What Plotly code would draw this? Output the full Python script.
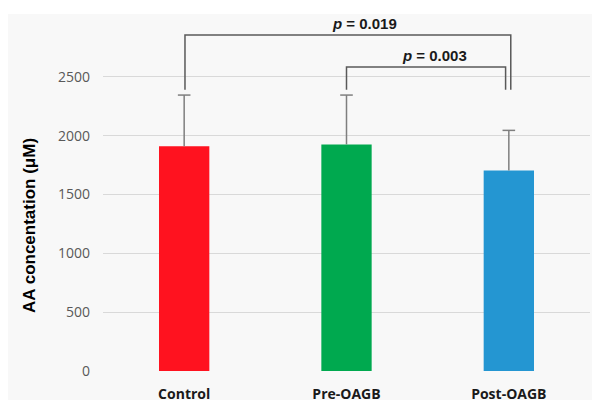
import plotly.graph_objects as go

categories = ["Control", "Pre-OAGB", "Post-OAGB"]
means = [1910, 1925, 1705]
sds = [435, 420, 340]
bar_colors = ["#ff121f", "#00a94f", "#2496d2"]

y_ticks = [0, 500, 1000, 1500, 2000, 2500]

# significance brackets: (left index, right index, top level, leg bottom, label)
brackets = [
    (0.005, 2.012, 2855, 2390, "<b><i>p</i> = 0.019</b>"),
    (1.0, 1.98, 2583, 2390, "<b><i>p</i> = 0.003</b>"),
]

fig = go.Figure()
fig.add_trace(go.Bar(
    x=categories, y=means,
    marker=dict(color=bar_colors, line=dict(width=0)),
    width=0.31,
    showlegend=False,
))

# upper error bars (stem + cap only, no cap at bar top)
ex, ey = [], []
for c, m, s in zip(categories, means, sds):
    ex += [c, c, None]
    ey += [m, m + s, None]
fig.add_trace(go.Scatter(x=ex, y=ey, mode="lines", line=dict(color="#7f7f7f", width=1.5),
                         showlegend=False, hoverinfo="skip"))
fig.add_trace(go.Scatter(x=categories, y=[m + s for m, s in zip(means, sds)], mode="markers",
                         marker=dict(symbol="line-ew", size=9, line=dict(color="#7f7f7f", width=1.5)),
                         showlegend=False, hoverinfo="skip"))

# white strip above the light grey chart background
shapes = [dict(type="rect", xref="paper", yref="paper", x0=-0.3, x1=1.1, y0=1.0113, y1=1.1,
               fillcolor="white", line=dict(width=0), layer="below")]
annotations = []
for x0, x1, top, leg, label in brackets:
    shapes.append(dict(type="path", xref="x", yref="y",
                       path=f"M {x0},{leg} L {x0},{top} L {x1},{top} L {x1},{leg}",
                       line=dict(color="#595959", width=1.5)))
    annotations.append(dict(x=(x0 + x1) / 2 + 0.1 * (x1 - x0) / 2, y=top, xref="x", yref="y",
                            text=label, showarrow=False, yanchor="bottom", yshift=1,
                            font=dict(family="Liberation Sans, Arial", size=15, color="#1a1a1a")))

annotations.append(dict(x=-0.15, y=0.4136, xref="paper", yref="paper", textangle=-90,
                        xanchor="center", yanchor="middle",
                        text="<b>AA concentation (μM)</b>", showarrow=False,
                        font=dict(family="Liberation Sans, Arial", size=17, color="#000000")))

fig.update_layout(
    width=592, height=392,
    margin=dict(l=95, r=10, t=10, b=29),
    paper_bgcolor="#f8f8f8", plot_bgcolor="rgba(0,0,0,0)",
    shapes=shapes, annotations=annotations,
    bargap=0.69,
)
fig.update_xaxes(showline=False, ticks="", showgrid=False, automargin=False,
                 tickfont=dict(family="Open Sans", size=14, color="#1a1a1a", weight="bold"),
                 ticklabelstandoff=13)
fig.update_yaxes(range=[0, 3000], tickvals=y_ticks, showline=False, ticks="", automargin=False,
                 gridcolor="#d9d9d9", gridwidth=1, zeroline=False,
                 tickfont=dict(family="Open Sans", size=14, color="#595959"),
                 ticklabelstandoff=12)

fig.write_html("out.html", config={"displayModeBar": False})
